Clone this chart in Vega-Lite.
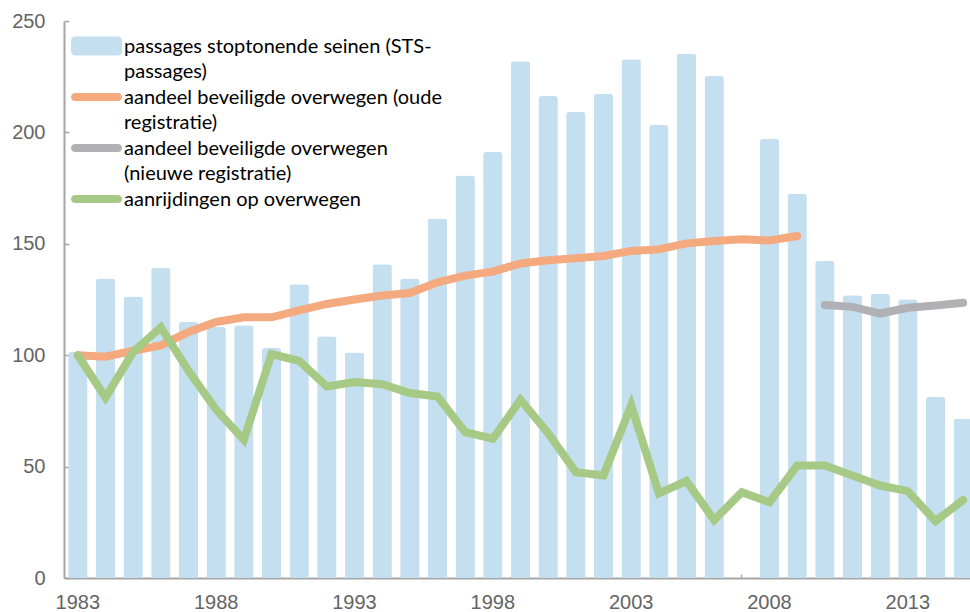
{
  "$schema": "https://vega.github.io/schema/vega-lite/v6.json",
  "width": 906,
  "height": 557,
  "autosize": {"type": "none"},
  "padding": {"left": 64, "top": 21, "right": 0, "bottom": 34},
  "background": "white",
  "config": {
    "view": {"stroke": null},
    "axis": {
      "grid": false,
      "labelFont": "Liberation Sans",
      "labelFontSize": 20,
      "labelColor": "#646464",
      "domainColor": "#a6a6a6",
      "domainWidth": 2,
      "tickColor": "#a6a6a6",
      "tickWidth": 1.5
    }
  },
  "data": {
    "values": [
      {"year": 1983, "series": "passages stoptonende seinen (STS-|passages)", "value": 101.4},
      {"year": 1984, "series": "passages stoptonende seinen (STS-|passages)", "value": 134.4},
      {"year": 1985, "series": "passages stoptonende seinen (STS-|passages)", "value": 126.4},
      {"year": 1986, "series": "passages stoptonende seinen (STS-|passages)", "value": 139.3},
      {"year": 1987, "series": "passages stoptonende seinen (STS-|passages)", "value": 114.9},
      {"year": 1988, "series": "passages stoptonende seinen (STS-|passages)", "value": 112.7},
      {"year": 1989, "series": "passages stoptonende seinen (STS-|passages)", "value": 113.4},
      {"year": 1990, "series": "passages stoptonende seinen (STS-|passages)", "value": 103.2},
      {"year": 1991, "series": "passages stoptonende seinen (STS-|passages)", "value": 131.8},
      {"year": 1992, "series": "passages stoptonende seinen (STS-|passages)", "value": 108.5},
      {"year": 1993, "series": "passages stoptonende seinen (STS-|passages)", "value": 101.2},
      {"year": 1994, "series": "passages stoptonende seinen (STS-|passages)", "value": 140.8},
      {"year": 1995, "series": "passages stoptonende seinen (STS-|passages)", "value": 134.4},
      {"year": 1996, "series": "passages stoptonende seinen (STS-|passages)", "value": 161.3},
      {"year": 1997, "series": "passages stoptonende seinen (STS-|passages)", "value": 180.7},
      {"year": 1998, "series": "passages stoptonende seinen (STS-|passages)", "value": 191.2},
      {"year": 1999, "series": "passages stoptonende seinen (STS-|passages)", "value": 231.9},
      {"year": 2000, "series": "passages stoptonende seinen (STS-|passages)", "value": 216.3},
      {"year": 2001, "series": "passages stoptonende seinen (STS-|passages)", "value": 209.2},
      {"year": 2002, "series": "passages stoptonende seinen (STS-|passages)", "value": 217.2},
      {"year": 2003, "series": "passages stoptonende seinen (STS-|passages)", "value": 232.8},
      {"year": 2004, "series": "passages stoptonende seinen (STS-|passages)", "value": 203.3},
      {"year": 2005, "series": "passages stoptonende seinen (STS-|passages)", "value": 235.4},
      {"year": 2006, "series": "passages stoptonende seinen (STS-|passages)", "value": 225.3},
      {"year": 2008, "series": "passages stoptonende seinen (STS-|passages)", "value": 197.0},
      {"year": 2009, "series": "passages stoptonende seinen (STS-|passages)", "value": 172.5},
      {"year": 2010, "series": "passages stoptonende seinen (STS-|passages)", "value": 142.3},
      {"year": 2011, "series": "passages stoptonende seinen (STS-|passages)", "value": 126.9},
      {"year": 2012, "series": "passages stoptonende seinen (STS-|passages)", "value": 127.6},
      {"year": 2013, "series": "passages stoptonende seinen (STS-|passages)", "value": 125.1},
      {"year": 2014, "series": "passages stoptonende seinen (STS-|passages)", "value": 81.2},
      {"year": 2015, "series": "passages stoptonende seinen (STS-|passages)", "value": 71.5},

      {"year": 1983, "series": "aandeel beveiligde overwegen (oude|registratie)", "value": 100.0},
      {"year": 1984, "series": "aandeel beveiligde overwegen (oude|registratie)", "value": 99.3},
      {"year": 1985, "series": "aandeel beveiligde overwegen (oude|registratie)", "value": 102.0},
      {"year": 1986, "series": "aandeel beveiligde overwegen (oude|registratie)", "value": 104.4},
      {"year": 1987, "series": "aandeel beveiligde overwegen (oude|registratie)", "value": 110.4},
      {"year": 1988, "series": "aandeel beveiligde overwegen (oude|registratie)", "value": 114.9},
      {"year": 1989, "series": "aandeel beveiligde overwegen (oude|registratie)", "value": 117.0},
      {"year": 1990, "series": "aandeel beveiligde overwegen (oude|registratie)", "value": 117.0},
      {"year": 1991, "series": "aandeel beveiligde overwegen (oude|registratie)", "value": 120.1},
      {"year": 1992, "series": "aandeel beveiligde overwegen (oude|registratie)", "value": 123.0},
      {"year": 1993, "series": "aandeel beveiligde overwegen (oude|registratie)", "value": 125.0},
      {"year": 1994, "series": "aandeel beveiligde overwegen (oude|registratie)", "value": 126.8},
      {"year": 1995, "series": "aandeel beveiligde overwegen (oude|registratie)", "value": 127.9},
      {"year": 1996, "series": "aandeel beveiligde overwegen (oude|registratie)", "value": 132.7},
      {"year": 1997, "series": "aandeel beveiligde overwegen (oude|registratie)", "value": 135.7},
      {"year": 1998, "series": "aandeel beveiligde overwegen (oude|registratie)", "value": 137.5},
      {"year": 1999, "series": "aandeel beveiligde overwegen (oude|registratie)", "value": 141.2},
      {"year": 2000, "series": "aandeel beveiligde overwegen (oude|registratie)", "value": 142.6},
      {"year": 2001, "series": "aandeel beveiligde overwegen (oude|registratie)", "value": 143.5},
      {"year": 2002, "series": "aandeel beveiligde overwegen (oude|registratie)", "value": 144.5},
      {"year": 2003, "series": "aandeel beveiligde overwegen (oude|registratie)", "value": 146.8},
      {"year": 2004, "series": "aandeel beveiligde overwegen (oude|registratie)", "value": 147.5},
      {"year": 2005, "series": "aandeel beveiligde overwegen (oude|registratie)", "value": 150.2},
      {"year": 2006, "series": "aandeel beveiligde overwegen (oude|registratie)", "value": 151.3},
      {"year": 2007, "series": "aandeel beveiligde overwegen (oude|registratie)", "value": 152.0},
      {"year": 2008, "series": "aandeel beveiligde overwegen (oude|registratie)", "value": 151.5},
      {"year": 2009, "series": "aandeel beveiligde overwegen (oude|registratie)", "value": 153.5},

      {"year": 2010, "series": "aandeel beveiligde overwegen|(nieuwe registratie)", "value": 122.5},
      {"year": 2011, "series": "aandeel beveiligde overwegen|(nieuwe registratie)", "value": 121.7},
      {"year": 2012, "series": "aandeel beveiligde overwegen|(nieuwe registratie)", "value": 118.7},
      {"year": 2013, "series": "aandeel beveiligde overwegen|(nieuwe registratie)", "value": 121.3},
      {"year": 2014, "series": "aandeel beveiligde overwegen|(nieuwe registratie)", "value": 122.3},
      {"year": 2015, "series": "aandeel beveiligde overwegen|(nieuwe registratie)", "value": 123.5},

      {"year": 1983, "series": "aanrijdingen op overwegen", "value": 100.0},
      {"year": 1984, "series": "aanrijdingen op overwegen", "value": 81.0},
      {"year": 1985, "series": "aanrijdingen op overwegen", "value": 101.5},
      {"year": 1986, "series": "aanrijdingen op overwegen", "value": 112.5},
      {"year": 1987, "series": "aanrijdingen op overwegen", "value": 93.0},
      {"year": 1988, "series": "aanrijdingen op overwegen", "value": 75.5},
      {"year": 1989, "series": "aanrijdingen op overwegen", "value": 62.0},
      {"year": 1990, "series": "aanrijdingen op overwegen", "value": 100.5},
      {"year": 1991, "series": "aanrijdingen op overwegen", "value": 97.5},
      {"year": 1992, "series": "aanrijdingen op overwegen", "value": 86.0},
      {"year": 1993, "series": "aanrijdingen op overwegen", "value": 88.0},
      {"year": 1994, "series": "aanrijdingen op overwegen", "value": 87.0},
      {"year": 1995, "series": "aanrijdingen op overwegen", "value": 83.0},
      {"year": 1996, "series": "aanrijdingen op overwegen", "value": 81.5},
      {"year": 1997, "series": "aanrijdingen op overwegen", "value": 65.5},
      {"year": 1998, "series": "aanrijdingen op overwegen", "value": 62.5},
      {"year": 1999, "series": "aanrijdingen op overwegen", "value": 80.0},
      {"year": 2000, "series": "aanrijdingen op overwegen", "value": 65.0},
      {"year": 2001, "series": "aanrijdingen op overwegen", "value": 47.5},
      {"year": 2002, "series": "aanrijdingen op overwegen", "value": 46.0},
      {"year": 2003, "series": "aanrijdingen op overwegen", "value": 77.5},
      {"year": 2004, "series": "aanrijdingen op overwegen", "value": 38.0},
      {"year": 2005, "series": "aanrijdingen op overwegen", "value": 43.5},
      {"year": 2006, "series": "aanrijdingen op overwegen", "value": 26.0},
      {"year": 2007, "series": "aanrijdingen op overwegen", "value": 38.5},
      {"year": 2008, "series": "aanrijdingen op overwegen", "value": 34.0},
      {"year": 2009, "series": "aanrijdingen op overwegen", "value": 50.5},
      {"year": 2010, "series": "aanrijdingen op overwegen", "value": 50.5},
      {"year": 2011, "series": "aanrijdingen op overwegen", "value": 46.0},
      {"year": 2012, "series": "aanrijdingen op overwegen", "value": 41.5},
      {"year": 2013, "series": "aanrijdingen op overwegen", "value": 39.0},
      {"year": 2014, "series": "aanrijdingen op overwegen", "value": 25.5},
      {"year": 2015, "series": "aanrijdingen op overwegen", "value": 35.0}
    ]
  },
  "encoding": {
    "x": {
      "field": "year",
      "type": "ordinal",
      "scale": {"range": [0, 913], "paddingInner": 0.3, "paddingOuter": 0.15},
      "axis": {
        "title": null,
        "labelAngle": 0,
        "tickSize": -4,
        "labelPadding": 18,
        "labelOverlap": false,
        "labelExpr": "(datum.value - 1983) % 5 === 0 ? datum.label : ''"
      }
    },
    "y": {
      "field": "value",
      "type": "quantitative",
      "scale": {"domain": [0, 250], "nice": false},
      "axis": {"title": null, "values": [0, 50, 100, 150, 200, 250], "tickSize": -5, "labelPadding": 24}
    },
    "color": {
      "field": "series",
      "type": "nominal",
      "scale": {
        "domain": [
          "passages stoptonende seinen (STS-|passages)",
          "aandeel beveiligde overwegen (oude|registratie)",
          "aandeel beveiligde overwegen|(nieuwe registratie)",
          "aanrijdingen op overwegen"
        ],
        "range": ["#c3dff0", "#f4a97e", "#b1b1b5", "#a6c986"]
      },
      "legend": {
        "title": null,
        "orient": "none",
        "legendX": 7,
        "legendY": 14,
        "padding": 0,
        "rowPadding": 4,
        "symbolSize": 2601,
        "labelFont": "Lato",
        "labelFontSize": 20,
        "labelColor": "#000000",
        "labelOffset": 2,
        "labelLimit": 700,
        "labelBaseline": "top",
        "labelExpr": "split(datum.label, '|')",
        "encode": {
          "symbols": {
            "update": {
              "shape": {"signal": "datum.value === 'passages stoptonende seinen (STS-|passages)' ? 'M-0.84,-0.37H0.84A0.16,0.16 0 0 1 1,-0.21V0.21A0.16,0.16 0 0 1 0.84,0.37H-0.84A0.16,0.16 0 0 1 -1,0.21V-0.21A0.16,0.16 0 0 1 -0.84,-0.37Z' : 'M-0.84,-0.16H0.84A0.16,0.16 0 0 1 0.84,0.16H-0.84A0.16,0.16 0 0 1 -0.84,-0.16Z'"},
              "y": {"value": 11},
              "fill": {"scale": "color", "field": "value"},
              "fillOpacity": {"value": 1},
              "strokeWidth": {"value": 0}
            }
          },
          "labels": {
            "update": {
              "lineHeight": {"value": 25},
              "y": {"value": 2}
            }
          }
        }
      }
    }
  },
  "layer": [
    {
      "transform": [{"filter": "datum.series === 'passages stoptonende seinen (STS-|passages)'"}],
      "mark": {"type": "bar", "cornerRadiusTopLeft": 3, "cornerRadiusTopRight": 3}
    },
    {
      "transform": [{"filter": "datum.series !== 'passages stoptonende seinen (STS-|passages)'"}],
      "mark": {"type": "line", "strokeWidth": 8, "strokeCap": "round"}
    }
  ]
}
